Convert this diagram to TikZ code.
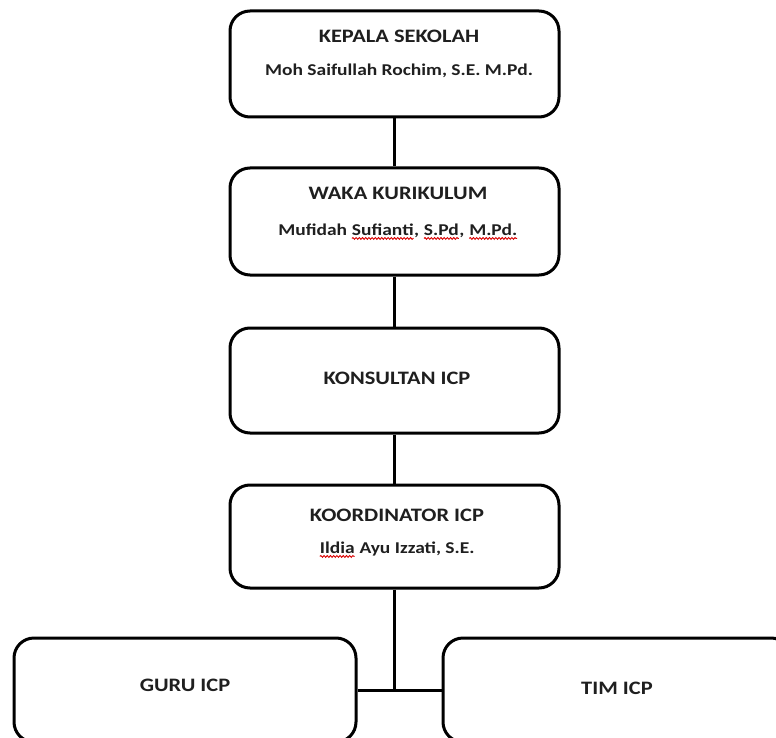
\documentclass[tikz,border=0pt]{standalone}
\usepackage{fontspec}
\setmainfont{Carlito}[FakeStretch=1.18]
\usetikzlibrary{decorations.pathmorphing}
\newcommand\spellmark[2]{\tikz[baseline=(#1.base)]{\node[inner sep=0pt,outer sep=0pt] (#1) {#2};
  \draw[red!85!black, line width=0.9pt, decorate, decoration={snake,amplitude=0.9pt,segment length=3.2pt}] ([yshift=-2.5pt]#1.south west) -- ([yshift=-2.5pt]#1.south east);}}
\tikzset{
  orgbox/.style={draw=black, line width=3pt, rounded corners=20pt, rectangle, inner sep=0pt},
  title/.style={font=\fontsize{19}{22}\selectfont\bfseries, text=black!88, inner sep=0pt},
  person/.style={font=\fontsize{16.5}{19}\selectfont\bfseries, text=black!88, inner sep=0pt},
  link/.style={draw=black, line width=3pt}
}
\begin{document}
\begin{tikzpicture}[x=1pt,y=-1pt]
\useasboundingbox (0,0) rectangle (776,738);
\clip (0,0) rectangle (776,738);
% boxes
\node[orgbox, minimum width=329pt, minimum height=106pt] (kepala) at (394.5,64) {};
\node[orgbox, minimum width=329pt, minimum height=107pt] (waka) at (394.5,221.5) {};
\node[orgbox, minimum width=329pt, minimum height=105pt] (konsultan) at (394.5,380.5) {};
\node[orgbox, minimum width=329pt, minimum height=103pt] (koord) at (394.5,536.5) {};
\node[orgbox, minimum width=342pt, minimum height=104pt] (guru) at (185,690) {};
\node[orgbox, minimum width=348pt, minimum height=104pt] (tim) at (617,690) {};
% texts
\node[title] (t1) at (399,36) {KEPALA SEKOLAH};
\node[person] (p1) at (399,71) {Moh Saifullah Rochim, S.E. M.Pd.};
\node[title] (t2) at (398,193) {WAKA KURIKULUM};
\node[person] (p2) at (398,232) {Mufidah \spellmark{wa}{Sufianti}, \spellmark{wb}{S.Pd}, \spellmark{wc}{M.Pd.}};
\node[title] (t3) at (397,378) {KONSULTAN ICP};
\node[title] (t4) at (397,515) {KOORDINATOR ICP};
\node[person] (p4) at (397,550) {\spellmark{wd}{Ildia} Ayu Izzati, S.E.};
\node[title] (t5) at (185,685) {GURU ICP};
\node[title] (t6) at (617,688) {TIM ICP};
% connectors
\coordinate (junction) at (394.5,690);
\draw[link] (kepala.south) -- (waka.north);
\draw[link] (waka.south) -- (konsultan.north);
\draw[link] (konsultan.south) -- (koord.north);
\draw[link] (koord.south) -- (junction);
\draw[link] (guru.east) -- (tim.west);
\end{tikzpicture}
\end{document}
